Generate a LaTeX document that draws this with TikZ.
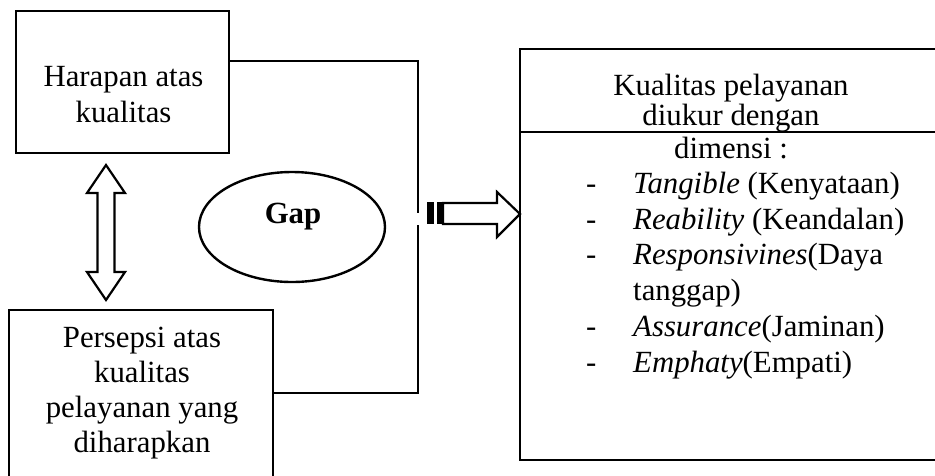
\documentclass[tikz,border=0pt]{standalone}
\usepackage{fontspec}
\setmainfont{Liberation Serif}
\usetikzlibrary{shapes.geometric}
\begin{document}
\begin{tikzpicture}[x=1pt,y=-1pt,
  frame/.style={draw=black,line width=2.4pt,inner sep=0pt,outer sep=0pt},
  conn/.style={draw=black,line width=2.2pt},
  shapeline/.style={draw=black,line width=2.2pt,line join=miter},
  body/.style={inner sep=0pt,anchor=north}]
\useasboundingbox (0,0) rectangle (935,475);
\clip (0,0) rectangle (935,475);

% boxes
\node[frame,minimum width=213pt,minimum height=142pt,anchor=north west] (harapan) at (16,11) {};
\node[frame,minimum width=264pt,minimum height=180pt,anchor=north west] (persepsi) at (9,310) {};
\node[frame,minimum width=430pt,minimum height=411pt,anchor=north west] (kualitas) at (520,49) {};
\node[frame,ellipse,minimum width=186pt,minimum height=110pt] (gap) at (292,227) {};

% texts (tabular struts fix the line pitch: top = first baseline - 0.7 skip)
\node[body,font=\fontsize{30.8}{36}\selectfont] (harapanText) at (123.5,60.8)
  {\begin{tabular}{@{}c@{}}Harapan atas\\kualitas\end{tabular}};
\node[body,font=\fontsize{30.8}{35}\selectfont] (persepsiText) at (142,322.5)
  {\begin{tabular}{@{}c@{}}Persepsi atas\\kualitas\\pelayanan yang\\diharapkan\end{tabular}};
\node[body,font=\fontsize{30.8}{28.5}\selectfont] (kualitasHead) at (731,74)
  {\begin{tabular}{@{}c@{}}Kualitas pelayanan\\diukur dengan\end{tabular}};
\node[inner sep=0pt,anchor=base,font=\fontsize{30.8}{36}\selectfont] (dimensi) at (731,158) {dimensi :};
\node[inner sep=0pt,anchor=north west,font=\fontsize{30.8}{35.8}\selectfont] (dimList) at (586,168)
  {\begin{tabular}{@{}p{47pt}@{}l@{}}
   - & \textit{Tangible} (Kenyataan)\\
   - & \textit{Reability} (Keandalan)\\
   - & \textit{Responsivines}(Daya\\
     & tanggap)\\
   - & \textit{Assurance}(Jaminan)\\
   - & \textit{Emphaty}(Empati)
   \end{tabular}};
\node[inner sep=0pt,font=\bfseries\fontsize{30.8}{34}\selectfont,anchor=base] (gapText) at (293,223) {Gap};

% divider inside the right box
\coordinate (divL) at (520,132);
\draw[frame] (divL) -- (kualitas.east |- divL);

% bracket joining the two left boxes
\coordinate (joinTop) at (418,61);
\coordinate (joinBot) at (418,393);
\coordinate (breakTop) at (418,213);
\coordinate (breakBot) at (418,225);
\draw[conn] (harapan.east |- joinTop) -- (joinTop) -- (breakTop);
\draw[conn] (breakBot) -- (joinBot) -- (persepsi.east |- joinBot);

% double arrow between the left boxes
\draw[shapeline] (106,165) -- (125,193) -- (114.5,193) -- (114.5,272) -- (125,272)
  -- (106,300) -- (87,272) -- (97.5,272) -- (97.5,193) -- (87,193) -- cycle;

% block arrow into the right box
\coordinate (tip) at (520,214);
\fill (427,202) rectangle (434,224);
\fill (437,202) rectangle (443,224);
\draw[shapeline] (443,203) -- (497,203) -- (497,192) -- (tip) -- (497,237)
  -- (497,224) -- (443,224) -- cycle;
\end{tikzpicture}
\end{document}
